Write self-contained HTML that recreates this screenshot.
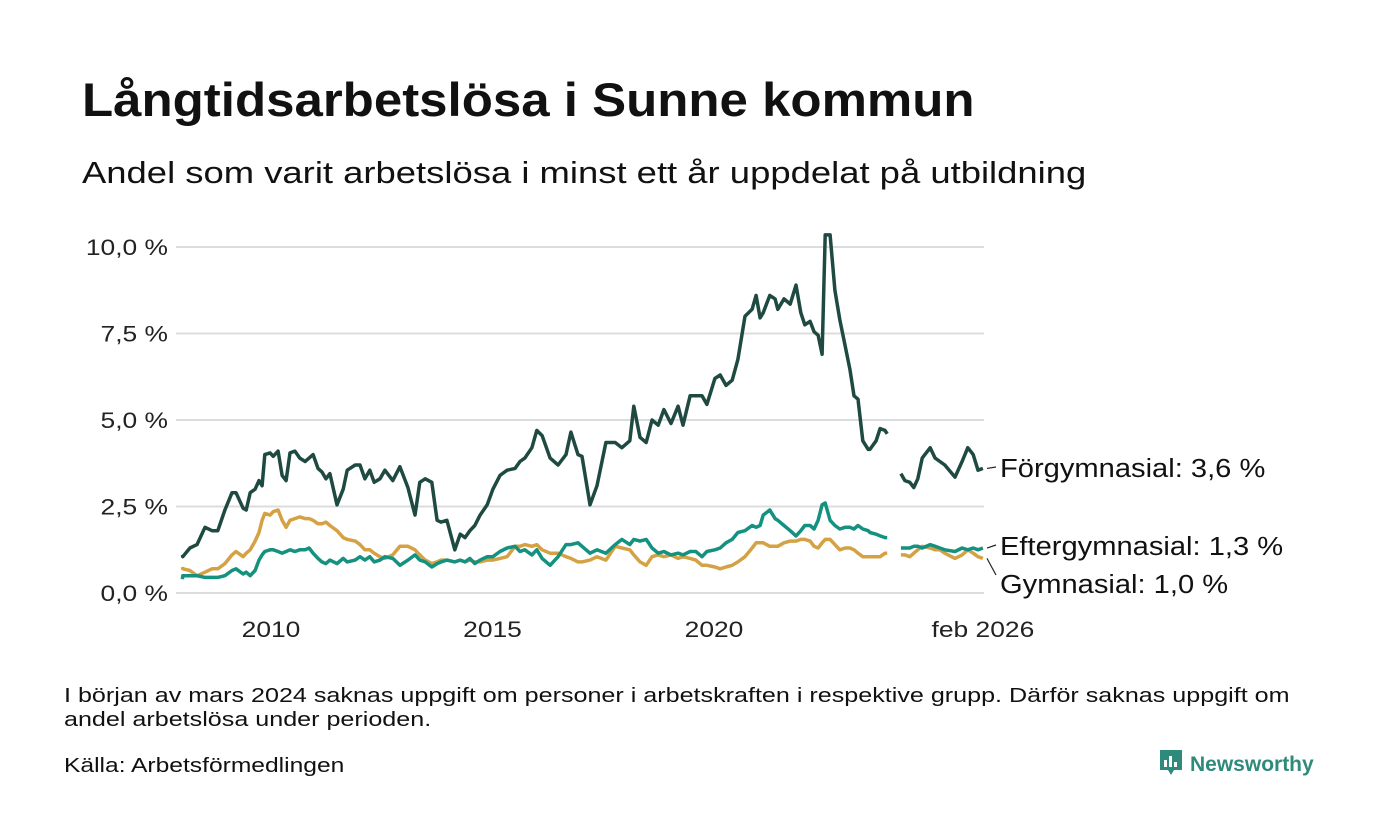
<!DOCTYPE html>
<html><head><meta charset="utf-8"><style>
body{margin:0;background:#fff;width:1400px;height:840px;overflow:hidden;font-family:"Liberation Sans",sans-serif;color:#111}
.t{position:absolute;white-space:nowrap;transform-origin:0 0}
</style></head><body>
<div class="t" style="left:82px;top:72px;font-size:47px;font-weight:bold;transform:scaleX(1.085)">Långtidsarbetslösa i Sunne kommun</div>
<div class="t" style="left:82px;top:155px;font-size:31px;transform:scaleX(1.175)">Andel som varit arbetslösa i minst ett år uppdelat på utbildning</div>
<svg id="chart" width="1400" height="840" style="position:absolute;left:0;top:0"></svg>
<div class="t" style="left:64px;top:684px;font-size:20.5px;line-height:24px;transform:scaleX(1.225)">I början av mars 2024 saknas uppgift om personer i arbetskraften i respektive grupp. Därför saknas uppgift om<br>andel arbetslösa under perioden.</div>
<div class="t" style="left:64px;top:754px;font-size:20.5px;transform:scaleX(1.2)">Källa: Arbetsförmedlingen</div>
<div class="t" style="left:1158px;top:748px;font-size:21px;font-weight:bold;color:#2e8b7b">
<svg width="26" height="30" style="vertical-align:-7px;margin-right:6px"><path d="M2 2h22v20h-8l-3 5-3-5H2z" fill="#2e8b7b"/><rect x="6" y="12" width="3" height="7" fill="#fff"/><rect x="11" y="8" width="3" height="11" fill="#fff"/><rect x="16" y="14" width="3" height="5" fill="#fff"/></svg>Newsworthy</div>
<script>
const dates=[2008.0,2008.01,2008.17,2008.33,2008.51,2008.67,2008.80,2008.96,2009.12,2009.21,2009.37,2009.44,2009.53,2009.64,2009.73,2009.80,2009.86,2009.98,2010.05,2010.16,2010.25,2010.34,2010.43,2010.54,2010.65,2010.77,2010.86,2010.95,2011.06,2011.15,2011.24,2011.33,2011.49,2011.63,2011.72,2011.90,2012.01,2012.12,2012.23,2012.33,2012.46,2012.57,2012.75,2012.91,2013.09,2013.25,2013.36,2013.48,2013.63,2013.75,2013.84,2013.97,2014.15,2014.27,2014.38,2014.49,2014.60,2014.72,2014.88,2015.01,2015.17,2015.33,2015.51,2015.62,2015.73,2015.89,2016.00,2016.12,2016.30,2016.48,2016.66,2016.77,2016.93,2017.02,2017.20,2017.36,2017.56,2017.77,2017.92,2018.10,2018.19,2018.33,2018.47,2018.60,2018.74,2018.87,2019.03,2019.19,2019.30,2019.46,2019.59,2019.73,2019.84,2020.02,2020.14,2020.27,2020.41,2020.54,2020.70,2020.86,2020.95,2021.04,2021.11,2021.26,2021.38,2021.44,2021.58,2021.72,2021.85,2021.96,2022.05,2022.17,2022.26,2022.35,2022.44,2022.51,2022.62,2022.73,2022.84,2022.96,2023.07,2023.16,2023.25,2023.36,2023.48,2023.52,2023.66,2023.75,2023.86,2023.91,2024.05,2024.22,2024.31,2024.42,2024.51,2024.60,2024.70,2024.88,2024.99,2025.10,2025.21,2025.44,2025.60,2025.73,2025.85,2025.96,2026.07];
const forgymnasial=[1.1,1.05,1.3,1.4,1.9,1.8,1.8,2.4,2.9,2.9,2.45,2.4,2.9,3.0,3.25,3.1,4.0,4.05,3.95,4.1,3.4,3.25,4.05,4.1,3.9,3.8,3.9,4.0,3.6,3.5,3.3,3.45,2.55,3.0,3.55,3.7,3.7,3.3,3.55,3.2,3.3,3.55,3.25,3.65,3.05,2.25,3.2,3.3,3.2,2.1,2.05,2.1,1.25,1.7,1.6,1.8,1.95,2.25,2.55,3.0,3.4,3.55,3.6,3.8,3.9,4.2,4.7,4.55,3.9,3.7,4.0,4.65,4.0,3.95,2.55,3.1,4.35,4.35,4.2,4.4,5.4,4.5,4.35,5.0,4.85,5.3,4.9,5.4,4.85,5.7,5.7,5.7,5.45,6.2,6.3,6.0,6.15,6.75,8.0,8.2,8.6,7.95,8.1,8.6,8.5,8.2,8.5,8.35,8.9,8.1,7.75,7.85,7.55,7.45,6.9,10.35,10.35,8.75,7.9,7.15,6.45,5.7,5.6,4.4,4.15,4.15,4.4,4.75,4.7,4.6,null,3.45,3.25,3.2,3.05,3.3,3.9,4.2,3.9,3.8,3.7,3.35,3.8,4.2,4.0,3.55,3.6];
const eftergymnasial=[0.4,0.5,0.5,0.5,0.45,0.45,0.45,0.5,0.65,0.7,0.55,0.6,0.5,0.65,0.95,1.1,1.2,1.25,1.25,1.2,1.15,1.2,1.25,1.2,1.25,1.25,1.3,1.15,1.0,0.9,0.85,0.95,0.85,1.0,0.9,0.95,1.05,0.95,1.05,0.9,0.95,1.05,1.0,0.8,0.95,1.1,0.95,0.9,0.75,0.85,0.9,0.95,0.9,0.95,0.9,1.0,0.85,0.95,1.05,1.05,1.2,1.3,1.35,1.2,1.25,1.1,1.25,1.0,0.8,1.05,1.4,1.4,1.45,1.35,1.15,1.25,1.15,1.4,1.55,1.4,1.55,1.5,1.55,1.3,1.15,1.2,1.1,1.15,1.1,1.2,1.2,1.05,1.2,1.25,1.3,1.45,1.55,1.75,1.8,1.95,1.9,1.95,2.25,2.4,2.15,2.1,1.95,1.8,1.65,1.8,1.95,1.95,1.85,2.1,2.55,2.6,2.1,1.95,1.85,1.9,1.9,1.85,1.95,1.85,1.8,1.75,1.7,1.65,1.6,1.6,null,1.3,1.3,1.3,1.35,1.35,1.3,1.4,1.35,1.3,1.25,1.2,1.3,1.25,1.3,1.25,1.3];
const gymnasial=[0.75,0.7,0.65,0.5,0.6,0.7,0.7,0.85,1.1,1.2,1.05,1.15,1.25,1.5,1.75,2.1,2.3,2.25,2.35,2.4,2.1,1.9,2.1,2.15,2.2,2.15,2.15,2.1,2.0,2.0,2.05,1.95,1.8,1.6,1.55,1.5,1.4,1.25,1.25,1.15,1.05,1.0,1.1,1.35,1.35,1.25,1.1,0.95,0.85,0.9,0.95,0.95,0.9,0.95,0.9,0.95,0.9,0.9,0.95,0.95,1.0,1.05,1.35,1.35,1.4,1.35,1.4,1.25,1.15,1.15,1.05,1.0,0.9,0.9,0.95,1.05,0.95,1.35,1.3,1.25,1.1,0.9,0.8,1.05,1.1,1.05,1.1,1.0,1.05,1.0,0.95,0.8,0.8,0.75,0.7,0.75,0.8,0.9,1.05,1.3,1.45,1.45,1.45,1.35,1.35,1.35,1.45,1.5,1.5,1.55,1.55,1.5,1.35,1.3,1.45,1.55,1.55,1.4,1.25,1.3,1.3,1.25,1.15,1.05,1.05,1.05,1.05,1.05,1.15,1.15,null,1.1,1.1,1.05,1.15,1.25,1.35,1.3,1.25,1.25,1.15,1.0,1.1,1.25,1.15,1.05,1.0];
const yTicks=[0,2.5,5,7.5,10];
const yTickLabels=["0,0 %","2,5 %","5,0 %","7,5 %","10,0 %"];
const xTicks=[2010,2015,2020,2026.07];
const xTickLabels=["2010","2015","2020","feb 2026"];
const seriesNames=["Förgymnasial: 3,6 %","Eftergymnasial: 1,3 %","Gymnasial: 1,0 %"];

const NS="http://www.w3.org/2000/svg";
const svg=document.getElementById('chart');
const x=v=>271+(v-2010)*44.3;
const y=v=>593-v*34.6;
function mk(tag,attrs,parent){const e=document.createElementNS(NS,tag);for(const k in attrs)e.setAttribute(k,attrs[k]);(parent||svg).appendChild(e);return e;}
yTicks.forEach((t,i)=>{
  const l=mk('line',{x1:176,x2:984,y1:y(t),y2:y(t),stroke:'#dcdcdf','stroke-width':2});
  
  
  const tx=mk('text',{transform:'translate(168,'+(y(t)+8)+') scale(1.2,1)','text-anchor':'end','font-size':22,fill:'#222'});
  tx.textContent=yTickLabels[i];
  
  
});
xTicks.forEach((t,i)=>{
  const tx=mk('text',{transform:'translate('+x(t)+',637) scale(1.2,1)','text-anchor':'middle','font-size':22,fill:'#222'});
  tx.textContent=xTickLabels[i];
  
  
});
function path(vals){let d='',pen=false;vals.forEach((v,i)=>{if(v==null){pen=false;return;}d+=(pen?'L':'M')+x(dates[i]).toFixed(1)+' '+y(v).toFixed(1);pen=true;});return d;}
const series=[[gymnasial,'#d4a245','line-gymnasial'],[eftergymnasial,'#14917f','line-eftergymnasial'],[forgymnasial,'#1f4a42','line-forgymnasial']];
series.forEach(s=>{
  const p=mk('path',{d:path(s[0]),fill:'none',stroke:s[1],'stroke-width':3.5,'stroke-linejoin':'round'});
  
  
});
const lastF=forgymnasial[forgymnasial.length-1],lastE=eftergymnasial[eftergymnasial.length-1],lastG=gymnasial[gymnasial.length-1];
const ann=[[lastF,467,'label-forgymnasial'],[lastE,545,'label-eftergymnasial'],[lastG,583,'label-gymnasial']];
ann.forEach((a,i)=>{
  const ld=mk('line',{x1:987,y1:y(a[0]),x2:996,y2:a[1]+(i==2?-8:0),stroke:'#222','stroke-width':1.2});
  
  
  const tx=mk('text',{transform:'translate(1000,'+(a[1]+10)+') scale(1.12,1)','font-size':26,fill:'#111'});
  tx.textContent=seriesNames[i];
  
  
});
</script>
</body></html>
